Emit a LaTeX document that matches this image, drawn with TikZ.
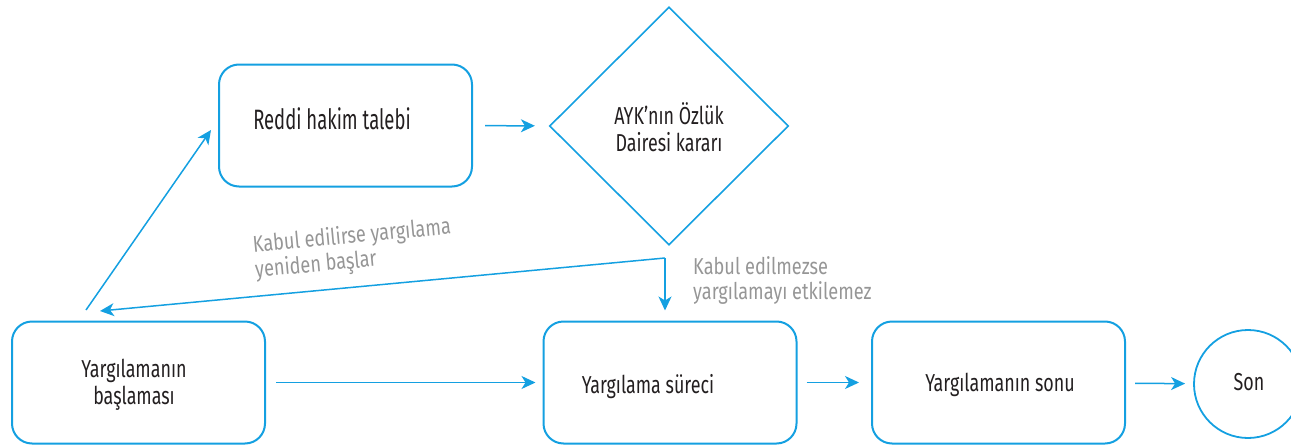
\documentclass[tikz,border=0pt]{standalone}
\usepackage{fontspec}
\setmainfont{Fira Sans}[FakeStretch=0.73]
\newfontfamily\bigboxfont{Fira Sans}[FakeStretch=0.66]
\newfontfamily\lblfont{Fira Sans}[FakeStretch=0.79]
\usetikzlibrary{shapes.geometric,arrows.meta,calc}
\definecolor{flowblue}{RGB}{20,160,225}
\definecolor{labelgray}{RGB}{150,150,150}
\definecolor{txt}{RGB}{35,31,32}
\tikzset{
  box/.style={draw=flowblue, line width=2pt, rounded corners=20pt, minimum width=253pt, minimum height=122pt, inner sep=0pt},
  dia/.style={draw=flowblue, line width=1.6pt, diamond, minimum width=239pt, minimum height=238pt, inner sep=0pt},
  endc/.style={draw=flowblue, line width=1.8pt, circle, minimum size=108pt, inner sep=0pt},
  btxt/.style={font=\fontsize{24.5}{27}\selectfont, text=txt, align=center, inner sep=0pt},
  arr/.style={draw=flowblue, line width=1.5pt, -{Stealth[length=14pt,width=13pt,inset=4pt]}},
  lbl/.style={text=labelgray, align=left, inner sep=0pt, font=\lblfont\fontsize{23}{25}\selectfont}
}
\begin{document}
\begin{tikzpicture}[x=1pt,y=-1pt]
\useasboundingbox (0,0) rectangle (1291,447);
\node[box] (reddi) at (345.5,125.5) {};
\node[btxt, font=\bigboxfont\fontsize{28}{30}\selectfont] (reddit) at (332,119) {Reddi hakim talebi};
\node[dia] (ayk) at (669,126) {};
\node[btxt] (aykt) at (669,127) {AYK'nın Özlük\\Dairesi kararı};
\node[box] (basla) at (138.5,382.5) {};
\node[btxt] (baslat) at (134,385) {Yargılamanın\\başlaması};
\node[box] (surec) at (670,382.5) {};
\node[btxt] (surect) at (648,387) {Yargılama süreci};
\node[box] (sonu) at (998.5,382.5) {};
\node[btxt] (sonut) at (1000,385) {Yargılamanın sonu};
\node[endc] (son) at (1248,384) {};
\node[btxt] (sont) at (1249,382) {Son};
\coordinate (upS) at (86,310);
\coordinate (upE) at (211,130);
\coordinate (j) at (665,258);
\coordinate (backtip) at (100,311);
\draw[arr, shorten <=12pt, shorten >=14pt] (reddi) -- (ayk);
\draw[arr] (upS) -- (upE);
\draw[arr] (j) -- (backtip);
\draw[arr, shorten >=10pt] (j) -- (j |- surec.north);
\draw[arr, shorten <=10pt, shorten >=7pt] (basla) -- (surec);
\draw[arr, shorten <=9pt, shorten >=12pt] (surec) -- (sonu);
\draw[arr, shorten <=9pt, shorten >=8pt] (sonu) -- (son);
\node[lbl, rotate=5.4, anchor=west] (l1) at (254,259) {Kabul edilirse yargılama\\yeniden başlar};
\node[lbl, anchor=north west] (l2) at (693,256) {Kabul edilmezse\\yargılamayı etkilemez};
\end{tikzpicture}
\end{document}
